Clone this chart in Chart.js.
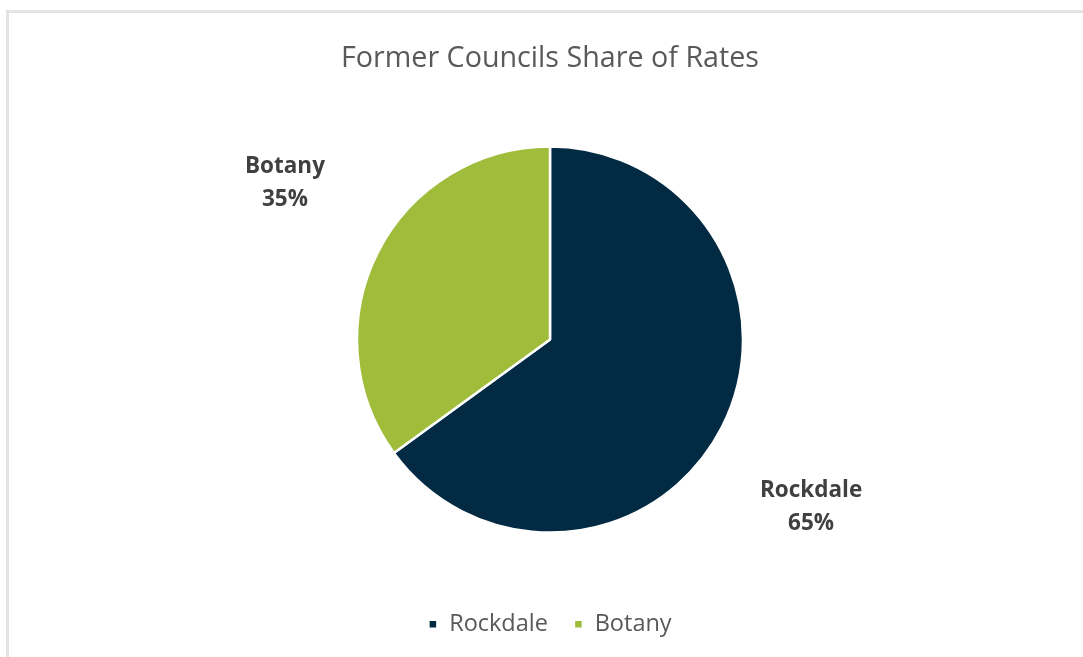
<!DOCTYPE html>
<html>
<head>
<meta charset="utf-8">
<script src="https://cdn.jsdelivr.net/npm/chart.js@4/dist/chart.umd.min.js"></script>
<style>
  html, body { margin: 0; padding: 0; background: #ffffff; }
  #frame {
    position: absolute; left: 6px; top: 10px; width: 1077px; height: 647px;
    border-left: 3px solid #e4e4e4; border-top: 3px solid #e4e4e4;
  }
  #rates_chart { position: absolute; left: 0; top: 0; }
</style>
</head>
<body>
<div id="frame"></div>
<canvas id="rates_chart"></canvas>
<script>
const councils = ['Rockdale', 'Botany'];
const shareValues = [65, 35];
const sliceColors = ['#022a43', '#9fbd3b'];

const chartElem = document.getElementById('rates_chart');
chartElem.setAttribute("width", 1083);
chartElem.setAttribute("height", 657);

const fontFamily = "'Open Sans', 'Liberation Sans', sans-serif";

// draws "Name / NN%" outside each slice, like the excel data labels
const outsideLabels = {
  id: 'outsideLabels',
  afterDatasetsDraw(chart) {
    const ctx = chart.ctx;
    const meta = chart.getDatasetMeta(0);
    const total = shareValues.reduce((a, b) => a + b, 0);
    ctx.save();
    ctx.font = "bold 22.5px " + fontFamily;
    ctx.fillStyle = '#404040';
    ctx.textAlign = 'center';
    ctx.textBaseline = 'middle';
    meta.data.forEach((arc, i) => {
      // excel puts them a little clockwise of the slice middle
      const mid = (arc.startAngle + arc.endAngle) / 2 + 0.08;
      const r = arc.outerRadius * 1.6;
      const x = arc.x + Math.cos(mid) * r;
      const y = arc.y + Math.sin(mid) * r;
      const pct = Math.round(shareValues[i] / total * 100) + '%';
      ctx.fillText(councils[i], x - 2, y - 11);
      ctx.fillText(pct, x - 2, y + 22);
    });
    ctx.restore();
  }
};

new Chart(chartElem, {
  type: 'pie',
  data: {
    labels: councils,
    datasets: [{
      data: shareValues,
      backgroundColor: sliceColors,
      borderColor: '#ffffff',
      borderWidth: 2.5
    }]
  },
  options: {
    responsive: false,
    animation: false,
    radius: 193,
    layout: { padding: { top: 0, bottom: 11, left: 17 } },
    plugins: {
      title: {
        display: true,
        text: 'Former Councils Share of Rates',
        color: '#595959',
        font: { family: fontFamily, size: 28.7, weight: 'normal' },
        padding: { top: 42, bottom: 16.2 }
      },
      legend: {
        position: 'bottom',
        labels: {
          color: '#595959',
          font: { family: fontFamily, size: 23.5 },
          boxWidth: 9,
          boxHeight: 9,
          padding: 26
        }
      },
      tooltip: { enabled: false }
    }
  },
  plugins: [outsideLabels]
});
</script>
</body>
</html>
